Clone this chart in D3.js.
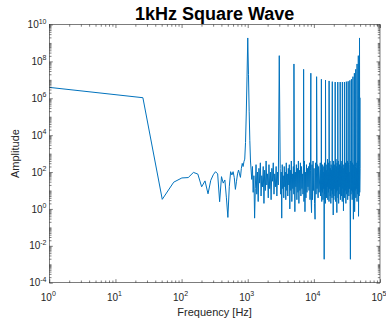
<!DOCTYPE html>
<html><head><meta charset="utf-8">
<script src="https://cdn.jsdelivr.net/npm/d3@7"></script>
<style>
body{margin:0;background:#fff}
svg{display:block}
text{font-family:"Liberation Sans",Arial,Helvetica,sans-serif}
</style>
</head><body>
<svg id="chart" width="386" height="320"></svg>
<script>
// ---------------- DATA ----------------
const chartTitle = "1kHz Square Wave";
const xLabel = "Frequency [Hz]";
const yLabel = "Amplitude";
const xDomain = [1, 1e5];
const yDomain = [1e-4, 1e10];
const xTickExps = [0, 1, 2, 3, 4, 5];
const yTickExps = [-4, -2, 0, 2, 4, 6, 8, 10];

// Spectrum bins (log10 amplitude) at f = 1 + k*binStep, k = 0..44
const binStep = 25.0125;
const lowLevels = [
  6.59, 6.03, 0.52, 1.45, 1.68, 1.70, 1.98, 1.89, 1.20, 1.52,
  0.82, 1.55, 1.85, 2.02, 1.90, 0.39, 1.75, 1.40, 1.57, 0.60,
  -0.46, 1.20, 2.02, 1.84, 2.02, 1.70, 1.06, 1.50, 1.90, 2.11,
  1.90, 1.71, 2.20, 2.47, 2.30, 2.56, 2.70, 3.60, 5.20, 7.20,
  9.27, 7.30, 5.30, 3.70, 2.60
];

// Noise floor samples (log10 amplitude), 1.15 kHz – 2.9 kHz, log-spaced
const midRange = [1150, 2900];
const midLevels = [
  1.6, 2.3, 0.9, 1.8, -0.5, 1.1, 2.4, 0.8, 2.0, 0.4,
  2.2, 1.4, 2.5, 0.7, 1.8, 1.2, 2.3, 0.3, 2.1, 1.0,
  2.6, 1.3, 1.9, 0.6, 2.4, 1.1, 2.0, 0.5, 2.2, 1.5,
  2.5, 0.8, 1.9, 1.2, 2.3, 0.7, 2.0, 1.3
];

// Noise floor samples (log10 amplitude), 3.1 kHz – 12 kHz, log-spaced
const highRangeA = [3100, 12000];
const highLevelsA = [
  2.2, 0.8, 2.0, -0.5, 2.4, 1.1, 1.8, 0.6, 2.3, 1.2,
  2.0, 0.5, 2.5, 1.0, 1.9, 0.7, 2.2, 1.3, 2.4, 0.0,
  2.1, 1.0, 2.6, 0.4, 1.9, 1.1, 2.3, 0.8, 2.5, -0.15,
  2.0, 1.2, 2.4, 0.5, 2.2, 0.9, 2.6, 0.3, 2.1, 1.0,
  2.5, 0.7, 2.3, 1.1, 1.9, 0.8, 2.4, 0.4, 2.6, -0.15,
  2.0, 0.6, 2.4, 0.9, 2.2, 1.2, 2.3, 1.0, 2.5, 0.5,
  2.1, 0.7, -0.2, 2.4, 0.5, 2.6, 1.0, 2.2, 0.3, -0.56,
  2.5, 0.8, 2.0, 1.1, 2.4, 0.6, 2.3, 0.9
];

// Noise floor samples (log10 amplitude), 12.5 kHz – 49.9 kHz, log-spaced
const highRangeB = [12500, 49900];
const highLevelsB = [
  2.5, 0.7, 2.1, 1.0, 2.6, 0.4, 2.2, 0.9, 2.4, 0.5,
  2.0, 1.1, 2.3, -2.73, 2.5, 0.8, 2.2, 0.3, 2.6, 1.0,
  2.1, 0.6, 2.4, 1.2, 2.7, 0.5, 2.0, 0.9, 2.5, 0.4,
  2.3, 1.1, 2.6, 0.7, 2.2, 0.3, 2.4, 1.0, 2.1, 0.6,
  2.5, 0.8, 2.3, -0.33, 2.6, 0.5, 2.2, 1.1, 2.4, 0.7,
  2.0, 0.4, 2.7, 0.9, 2.3, -0.2, 2.5, 1.0, 2.1, 0.6,
  2.6, 0.3, 2.2, 1.2, 2.4, 0.8, 2.0, 0.5, 2.5, 1.0,
  2.3, 0.7, 2.6, 0.4, 2.1, 1.1, 2.4, -0.1, 2.2, 0.9,
  2.7, 0.6, 2.3, 1.0, 2.5, 0.3, 2.1, 0.8, 2.4, 1.2,
  2.6, 0.5, 2.2, 0.9, 2.5, 0.7, 2.0, 1.1, 2.4, 0.4,
  -2.73, 2.6, 0.8, 2.3, 1.0, 2.1, 0.5, 2.5, 0.9, 2.2,
  -0.56, 2.4, 0.7, 2.6, -0.15, 2.0, 1.0, 2.3, 0.6, 2.5,
  1.1, 2.2, 0.4, 2.4, 0.8, 2.6, 1.0, -0.4, 2.1, 0.7,
  2.3, 0.9, 2.2
];

// Odd harmonic peaks (Hz) and their log10 amplitudes
const harmonicFreqs = [
  3000, 5000, 7000, 9000, 11000, 13000, 15000, 17000, 19000, 21000, 23000, 25000,
  27000, 29000, 31000, 33000, 35000, 37000, 39000, 41000, 43000, 45000, 47000, 49000
];
const harmonicLevels = [
  8.31, 7.86, 7.57, 7.36, 7.17, 7.03, 6.99, 6.94, 6.90, 6.88, 6.88, 6.88,
  6.88, 6.88, 6.90, 6.92, 6.97, 7.03, 7.17, 7.36, 7.57, 7.86, 8.31, 9.27
];

// Last bin
const lastFreq = 49990;
const lastLevel = 6.03;

// ---------------- BUILD SERIES ----------------
const points = [];
lowLevels.forEach((v, k) => points.push({ f: 1 + k * binStep, v }));
function addLogSpaced(range, levels) {
  const n = levels.length;
  const r = range[1] / range[0];
  levels.forEach((v, i) => points.push({ f: range[0] * Math.pow(r, i / (n - 1)), v }));
}
addLogSpaced(midRange, midLevels);
addLogSpaced(highRangeA, highLevelsA);
addLogSpaced(highRangeB, highLevelsB);
harmonicFreqs.forEach((f, i) => points.push({ f, v: harmonicLevels[i] }));
points.push({ f: lastFreq, v: lastLevel });
points.sort((a, b) => a.f - b.f);

// ---------------- DRAW ----------------
const L = 49.3, R = 380, T = 24.5, B = 282.7;
const svg = d3.select("#chart");
const axisColor = "#262626";

const x = d3.scaleLog().domain(xDomain).range([L, R]);
const y = d3.scaleLog().domain(yDomain).range([B, T]);

svg.append("defs").append("clipPath").attr("id", "clip")
  .append("rect").attr("x", L).attr("y", T).attr("width", R - L).attr("height", B - T);

// line
const line = d3.line().x(d => x(d.f)).y(d => y(Math.pow(10, d.v)));
svg.append("path")
  .datum(points)
  .attr("clip-path", "url(#clip)")
  .attr("fill", "none")
  .attr("stroke", "#0072BD")
  .attr("stroke-width", 1)
  .attr("stroke-linejoin", "round")
  .attr("d", line);

// ticks
const xMajor = xTickExps.map(e => Math.pow(10, e));
const xMinor = [];
for (let e = 0; e < 5; e++) for (let m = 2; m <= 9; m++) xMinor.push(m * Math.pow(10, e));
const yMajor = yTickExps.map(e => Math.pow(10, e));
const yMinor = [];
for (let e = -4; e < 10; e++) for (let m = (e % 2 === 0 ? 2 : 1); m <= 9; m++) yMinor.push(m * Math.pow(10, e));

function styleAxis(g) {
  g.select(".domain").remove();
  g.selectAll("line").attr("stroke", axisColor).attr("stroke-width", 0.6);
  g.selectAll("text").remove();
}
const majLen = 3.5, minLen = 2.2;
function addAxis(axisFn, tr, vals, len) {
  svg.append("g").attr("transform", tr)
    .call(axisFn.tickValues(vals).tickSizeInner(-len).tickSizeOuter(0)).call(styleAxis);
}
addAxis(d3.axisBottom(x), `translate(0,${B})`, xMajor, majLen);
addAxis(d3.axisBottom(x), `translate(0,${B})`, xMinor, minLen);
addAxis(d3.axisTop(x), `translate(0,${T})`, xMajor, majLen);
addAxis(d3.axisTop(x), `translate(0,${T})`, xMinor, minLen);
addAxis(d3.axisLeft(y), `translate(${L},0)`, yMajor, majLen);
addAxis(d3.axisLeft(y), `translate(${L},0)`, yMinor, minLen);
addAxis(d3.axisRight(y), `translate(${R},0)`, yMajor, majLen);
addAxis(d3.axisRight(y), `translate(${R},0)`, yMinor, minLen);

// box
svg.append("rect").attr("x", L).attr("y", T).attr("width", R - L).attr("height", B - T)
  .attr("fill", "none").attr("stroke", axisColor).attr("stroke-width", 0.6);

// tick labels
function powLabel(sel, e) {
  sel.append("tspan").text("10");
  sel.append("tspan").attr("dy", -4.5).attr("font-size", 7).text(String(e));
}
xTickExps.forEach(e => {
  const t = svg.append("text").attr("x", x(Math.pow(10, e)) - 1).attr("y", 300.5)
    .attr("text-anchor", "middle").attr("font-size", 10).attr("fill", axisColor);
  powLabel(t, e);
});
yTickExps.forEach(e => {
  const t = svg.append("text").attr("x", L - 2.8).attr("y", y(Math.pow(10, e)) + 3.6)
    .attr("text-anchor", "end").attr("font-size", 10).attr("fill", axisColor);
  powLabel(t, e);
});

// axis labels
svg.append("text").attr("x", (L + R) / 2).attr("y", 316).attr("text-anchor", "middle")
  .attr("font-size", 11).attr("fill", axisColor).text(xLabel);
svg.append("text").attr("transform", `translate(19,${(T + B) / 2}) rotate(-90)`)
  .attr("text-anchor", "middle").attr("font-size", 11).attr("fill", axisColor).text(yLabel);

// title
svg.append("text").attr("x", (L + R) / 2).attr("y", 20).attr("text-anchor", "middle")
  .attr("font-size", 18).attr("font-weight", "bold").attr("fill", "#000").text(chartTitle);
</script>
</body></html>
